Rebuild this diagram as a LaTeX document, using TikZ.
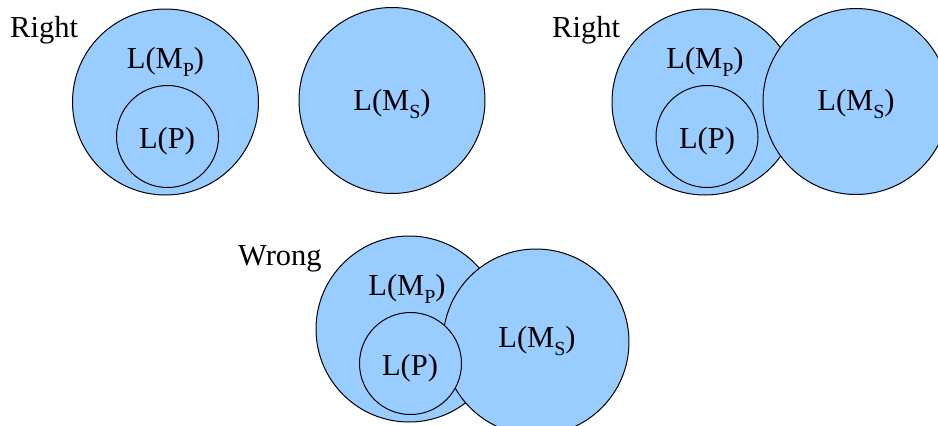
\documentclass[tikz,border=0pt]{standalone}
\usepackage{fontspec}
\setmainfont{Liberation Serif}
\definecolor{setfill}{RGB}{153,204,255}
% machine language with a lowered index
\newcommand{\lm}[1]{L(M\raisebox{-8pt}{\fontsize{20}{20}\selectfont #1})}
\tikzset{
  bigset/.style={circle, draw=black, fill=setfill, line width=1pt,
    inner sep=0pt, minimum size=186pt},
  smallset/.style={bigset, minimum size=102pt},
  setlabel/.style={anchor=base, inner sep=0pt, font=\fontsize{30.5}{36}\selectfont},
  verdict/.style={setlabel, anchor=base west},
}

\begin{document}
\begin{tikzpicture}[x=1pt, y=-1pt]
  \clip (0,0) rectangle (938,426);

  % disjoint
  \node[bigset] (MpA) at (165.5,102) {};
  \node[smallset] (PA) at (167.5,136.5) {};
  \node[bigset] (MsA) at (392,100.5) {};
  \node[verdict] (rightA) at (10,37) {Right};
  \node[setlabel] (lMpA) at (165.5,68) {\lm{P}};
  \node[setlabel] (lPA) at (167,148) {L(P)};
  \node[setlabel] (lMsA) at (392,110) {\lm{S}};

  % overlapping, P outside M_S
  \node[bigset] (MpB) at (705,102) {};
  \node[smallset] (PB) at (707,136.5) {};
  \node[bigset] (MsB) at (856,101.5) {};
  \node[verdict] (rightB) at (552,37) {Right};
  \node[setlabel] (lMpB) at (705,68) {\lm{P}};
  \node[setlabel] (lPB) at (707,148) {L(P)};
  \node[setlabel] (lMsB) at (856,110) {\lm{S}};

  % P meets M_S
  \node[bigset] (MpC) at (409,329) {};
  \node[bigset] (MsC) at (536,342) {};
  \node[smallset] (PC) at (410.5,363.5) {};
  \node[verdict] (wrong) at (238,265) {Wrong};
  \node[setlabel] (lMpC) at (407,295) {\lm{P}};
  \node[setlabel] (lPC) at (410,375) {L(P)};
  \node[setlabel] (lMsC) at (537,347) {\lm{S}};
\end{tikzpicture}
\end{document}
